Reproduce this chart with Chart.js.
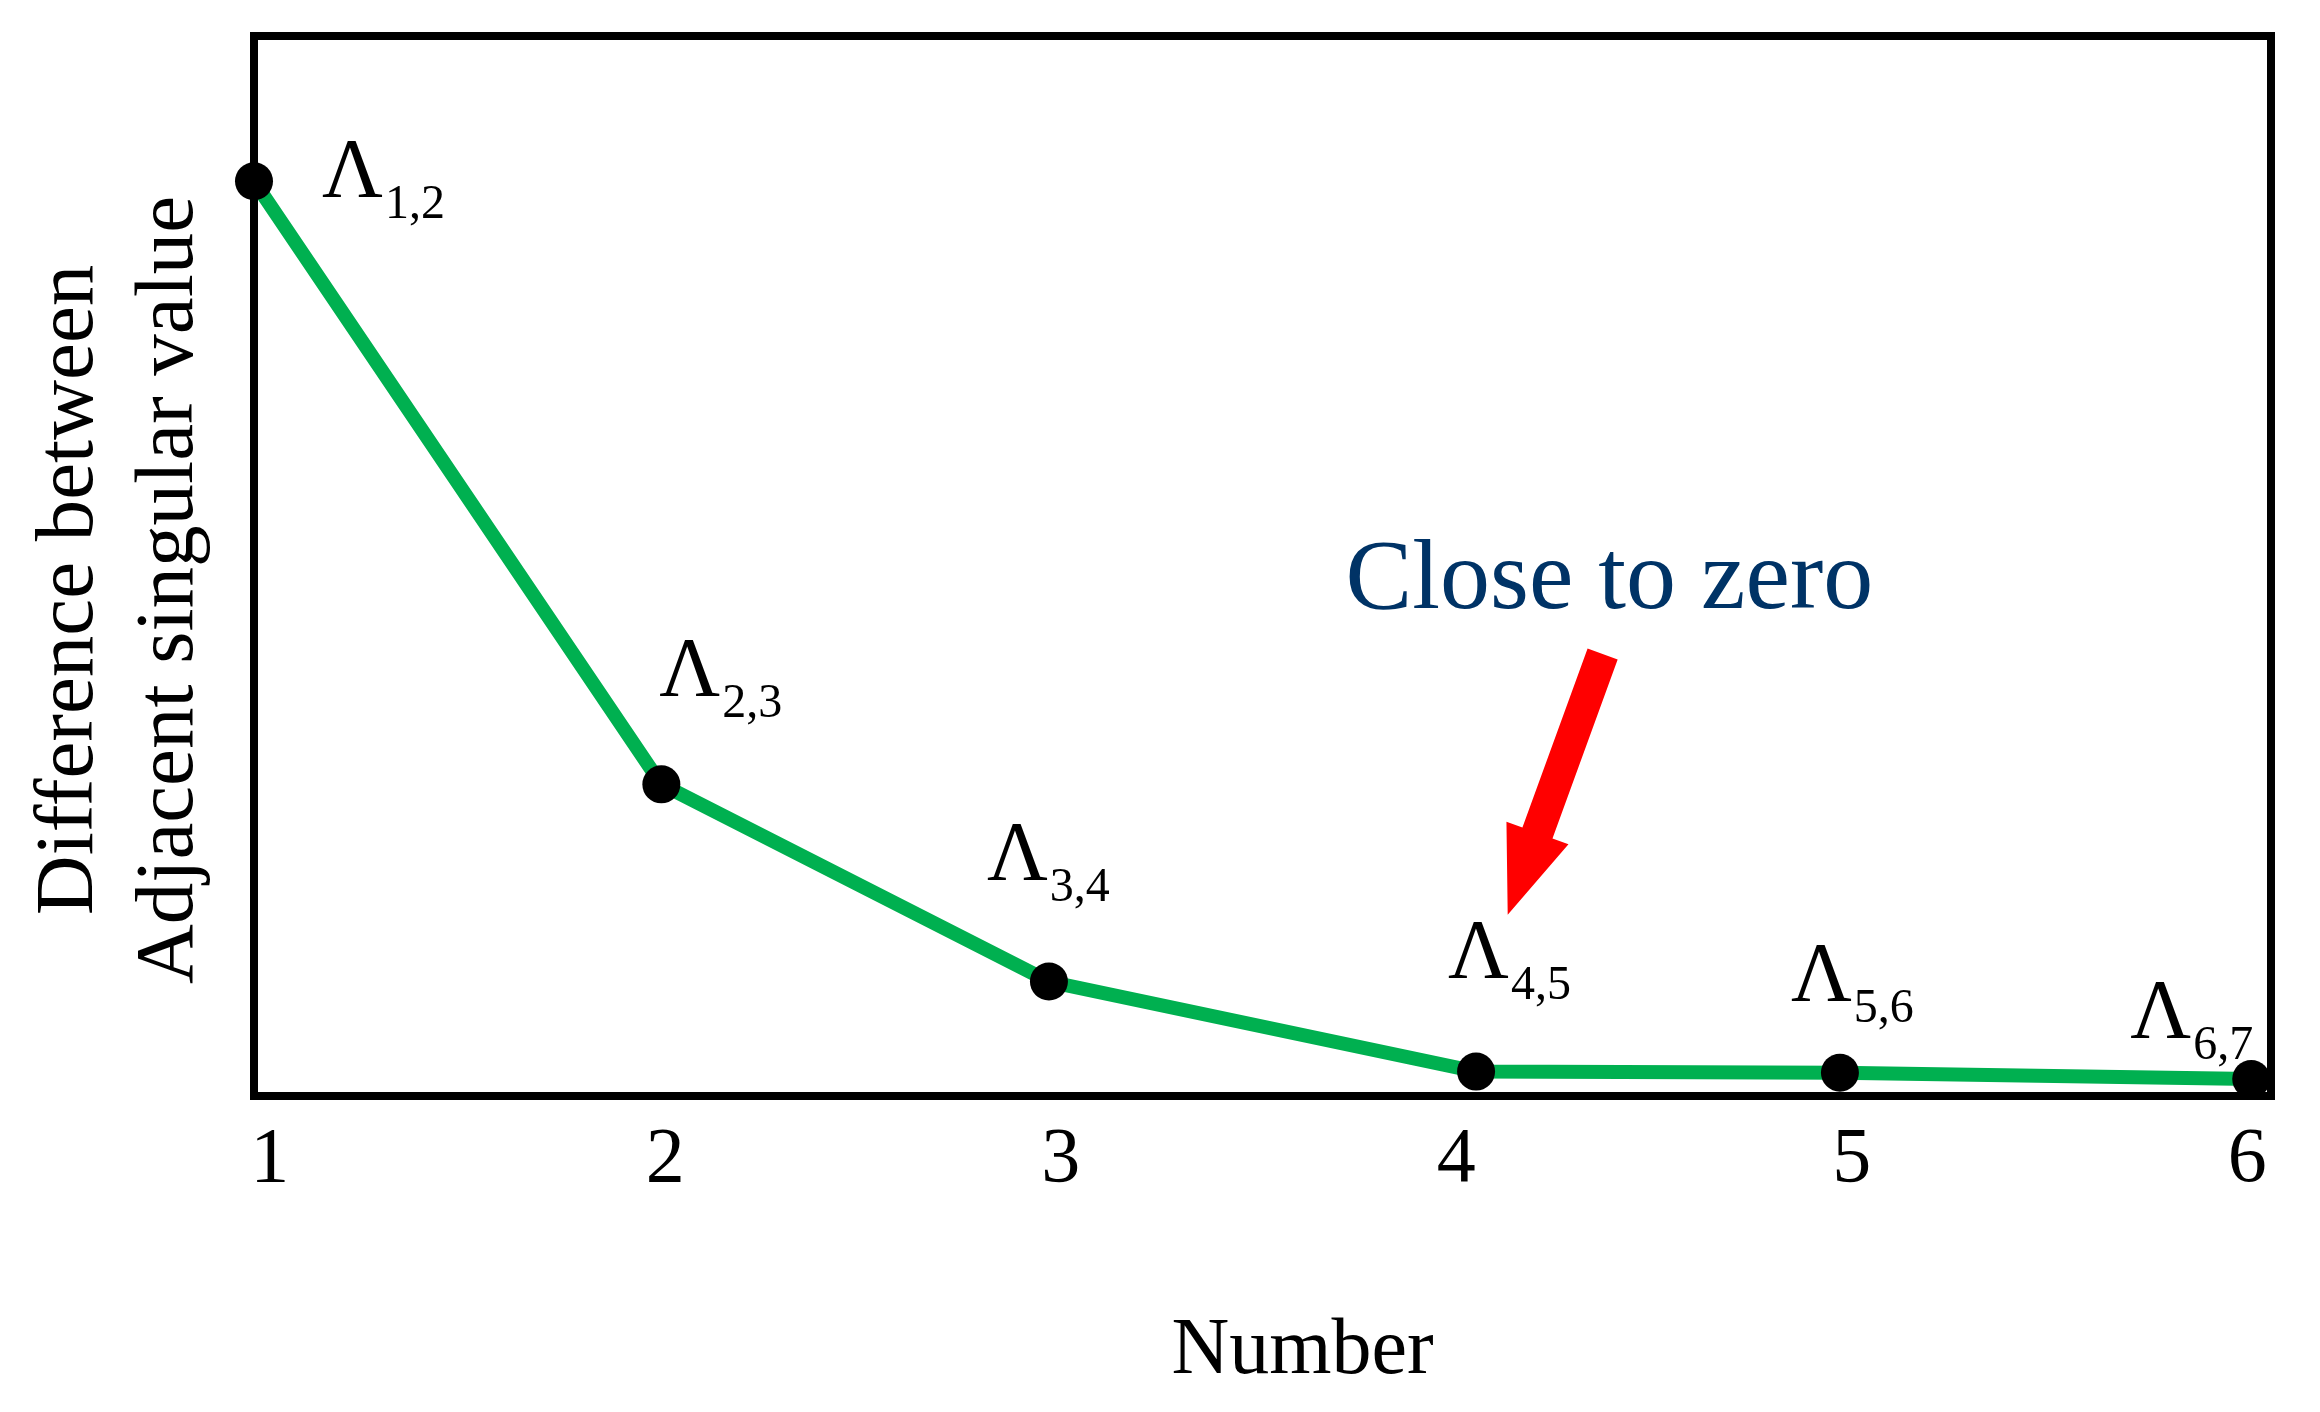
<!DOCTYPE html>
<html>
<head>
<meta charset="utf-8">
<script src="https://cdn.jsdelivr.net/npm/chart.js@4.4.1/dist/chart.umd.min.js"></script>
<style>
  html,body{margin:0;padding:0;background:#fff}
  #wrap{width:2320px;height:1412px}
</style>
</head>
<body>
<div id="wrap"><canvas id="c" width="2320" height="1412"></canvas></div>
<script>
/* valores */
const xs     = [0.96, 1.99, 2.97, 4.05, 4.97, 6.01];
const ys     = [86.3, 29.4, 10.8, 2.3, 2.2, 1.6];
const xTicks = [1, 2, 3, 4, 5, 6];
const subs   = ['1,2', '2,3', '3,4', '4,5', '5,6', '6,7'];
const xTitle = 'Number';
const yTitle = ['Difference between', 'Adjacent singular value'];

/* anotaciones (en unidades de datos) */
const note  = {text: 'Close to zero', x: 3.72, y: 46.0};
const arrow = {x0: 4.37, y0: 41.7, x1: 4.13, y1: 17.1};

/* desplazamiento de cada etiqueta Λ respecto a su punto, px */
const labelOff = [[68,16],[-2,-88],[-62,-102],[-28,-94],[-49,-72],[-121,-41]];

const SERIF = '"Liberation Serif", "Times New Roman", serif';

const deco = {
  id: 'deco',
  beforeDatasetsDraw(ch){
    const {ctx, chartArea: a} = ch;
    ctx.save();
    ctx.lineWidth = 8; ctx.strokeStyle = '#000';
    ctx.strokeRect(a.left, a.top, a.right - a.left, a.bottom - a.top);
    ctx.restore();
  },
  afterDatasetsDraw(ch){
    const {ctx, chartArea: a, scales: {x, y}} = ch;
    const pts = ch.getDatasetMeta(0).data;
    ctx.save();
    ctx.textAlign = 'left'; ctx.textBaseline = 'alphabetic';
    ctx.fillStyle = '#000';
    pts.forEach((p, i) => {
      const lx = p.x + labelOff[i][0], ly = p.y + labelOff[i][1];
      ctx.font = '84px ' + SERIF;
      ctx.fillText('Λ', lx, ly);
      const w = ctx.measureText('Λ').width;
      ctx.font = '48px ' + SERIF;
      ctx.fillText(subs[i], lx + w + 2, ly + 21);
    });

    /* títulos de ejes */
    ctx.textAlign = 'center';
    ctx.font = '80px ' + SERIF;
    ctx.fillText(xTitle, (a.left + a.right) / 2 + 40, 1373);
    ctx.save();
    ctx.translate(0, (a.top + a.bottom) / 2 + 24);
    ctx.rotate(-Math.PI / 2);
    ctx.font = '83px ' + SERIF;
    ctx.fillText(yTitle[0], 0, 92);
    ctx.fillText(yTitle[1], 0, 192);
    ctx.restore();

    /* texto */
    ctx.textAlign = 'left';
    ctx.fillStyle = '#003366';
    ctx.font = '100px ' + SERIF;
    ctx.fillText(note.text, x.getPixelForValue(note.x), y.getPixelForValue(note.y));

    /* flecha roja */
    const x0 = x.getPixelForValue(arrow.x0), y0 = y.getPixelForValue(arrow.y0);
    const x1 = x.getPixelForValue(arrow.x1), y1 = y.getPixelForValue(arrow.y1);
    const L = Math.hypot(x1 - x0, y1 - y0);
    const dx = (x1 - x0) / L, dy = (y1 - y0) / L;
    const px = -dy, py = dx;
    const head = 87, sw = 16, hw = 33;
    const bx = x1 - dx * head, by = y1 - dy * head;
    ctx.fillStyle = '#FF0000';
    ctx.beginPath();
    ctx.moveTo(x0 + px*sw, y0 + py*sw);
    ctx.lineTo(bx + px*sw, by + py*sw);
    ctx.lineTo(bx + px*hw, by + py*hw);
    ctx.lineTo(x1, y1);
    ctx.lineTo(bx - px*hw, by - py*hw);
    ctx.lineTo(bx - px*sw, by - py*sw);
    ctx.lineTo(x0 - px*sw, y0 - py*sw);
    ctx.closePath();
    ctx.fill();
    ctx.restore();
  }
};

new Chart(document.getElementById('c'), {
  type: 'line',
  data: {
    datasets: [{
      data: xs.map((v, i) => ({x: v, y: ys[i]})),
      borderColor: '#00B050',
      borderWidth: 14,
      tension: 0,
      pointRadius: 19,
      pointHoverRadius: 19,
      pointBackgroundColor: '#000',
      pointBorderWidth: 0,
      clip: false
    }]
  },
  options: {
    responsive: false,
    animation: false,
    events: [],
    layout: {padding: {left: 0, top: 36, right: 49, bottom: 0}},
    plugins: {legend: {display: false}, tooltip: {enabled: false}},
    scales: {
      x: {
        type: 'linear', min: 0.96, max: 6.06,
        afterBuildTicks: s => { s.ticks = xTicks.map(v => ({value: v})); },
        afterFit: s => { s.height = 316; },
        grid: {display: false}, border: {display: false},
        ticks: {color: '#000', padding: 10, maxRotation: 0, autoSkip: false,
                font: {family: SERIF, size: 78}}
      },
      y: {
        min: 0, max: 100,
        afterFit: s => { s.width = 254; },
        grid: {display: false}, border: {display: false},
        ticks: {display: false}
      }
    }
  },
  plugins: [deco]
});
</script>
</body>
</html>
